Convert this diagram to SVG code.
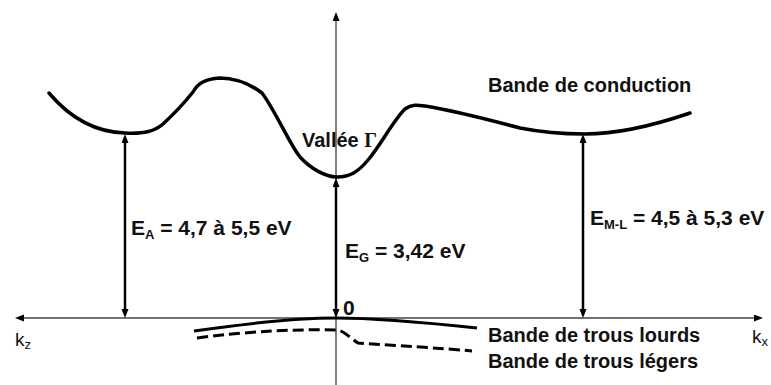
<svg xmlns="http://www.w3.org/2000/svg" width="771" height="385" viewBox="0 0 771 385">
<style>
.t{font-family:"Liberation Sans",Arial,sans-serif;font-weight:bold;font-size:20px;fill:#111}
.e{font-size:21px}
.s{font-size:13px}
.k{font-family:"Liberation Sans",Arial,sans-serif;font-size:19px;fill:#111}
.band{fill:none;stroke:#000;stroke-width:3.5;stroke-linecap:round}
.arr{stroke:#000;stroke-width:2.5}
</style>
<defs>
<marker id="ah" markerUnits="userSpaceOnUse" markerWidth="10" markerHeight="8" refX="0" refY="3.5" orient="auto-start-reverse">
<path d="M0,0 L9,3.5 L0,7 z" fill="#000"/>
</marker>
<marker id="ax" markerUnits="userSpaceOnUse" markerWidth="10" markerHeight="8" refX="0" refY="3.5" orient="auto">
<path d="M0,0 L9,3.5 L0,7 z" fill="#000"/>
</marker>
</defs>
<g id="axes">
<line x1="336" y1="385" x2="336" y2="21" stroke="#808080" stroke-width="2" marker-end="url(#ax)"/>
<line x1="754" y1="318" x2="24" y2="318" stroke="#444" stroke-width="1.5" marker-start="url(#ah)" marker-end="url(#ah)"/>
</g>
<g id="conduction-band">
<path class="band" d="M49,93 C65,112 90,132 125,133 C145,134 155,131 163,124 C175,113 185,102 193,92 C198,83 205,79 220,78 C235,78 250,84 262,93 C275,110 290,145 300,157 C310,168 325,177 337,177 C350,177 358,172 368,160 C380,146 395,118 405,109 C412,104 418,105 425,106 C450,110 490,120 520,128 C545,133 565,134 585,134 C620,134 655,125 690,113"/>
</g>
<g id="heavy-holes">
<path fill="none" stroke="#000" stroke-width="3" d="M194,331 C250,323 300,318 336,318 C380,318 430,323 477,328"/>
</g>
<g id="light-holes">
<path fill="none" stroke="#000" stroke-width="3" stroke-dasharray="11,5" d="M197,338 C250,331 300,329 336,330 C343,330 350,338 358,343 C400,346 440,348 472,351"/>
</g>
<g id="connectors">
<line class="arr" x1="125" y1="143" x2="125" y2="309" marker-start="url(#ah)" marker-end="url(#ah)"/>
<line class="arr" x1="336" y1="187" x2="336" y2="309" marker-start="url(#ah)" marker-end="url(#ah)"/>
<line class="arr" x1="583" y1="143" x2="583" y2="309" marker-start="url(#ah)" marker-end="url(#ah)"/>
</g>
<g id="labels">
<text class="t" x="488" y="92">Bande de conduction</text>
<text class="t" x="302" y="147">Vallée <tspan font-family="Liberation Serif,serif">Γ</tspan></text>
<text class="t e" x="131" y="235">E<tspan class="s" dy="4">A</tspan><tspan dy="-4"> = 4,7 à 5,5 eV</tspan></text>
<text class="t e" x="345" y="258">E<tspan class="s" dy="4">G</tspan><tspan dy="-4"> = 3,42 eV</tspan></text>
<text class="t e" x="590" y="225">E<tspan class="s" dy="4">M-L</tspan><tspan dy="-4"> = 4,5 à 5,3 eV</tspan></text>
<text class="t e" x="343" y="315">0</text>
<text class="t" x="488" y="342">Bande de trous lourds</text>
<text class="t" x="488" y="368">Bande de trous légers</text>
<text class="k" x="15" y="346">k<tspan class="s" dy="3">z</tspan></text>
<text class="k" x="752" y="343">k<tspan class="s" dy="3">x</tspan></text>
</g>
</svg>
